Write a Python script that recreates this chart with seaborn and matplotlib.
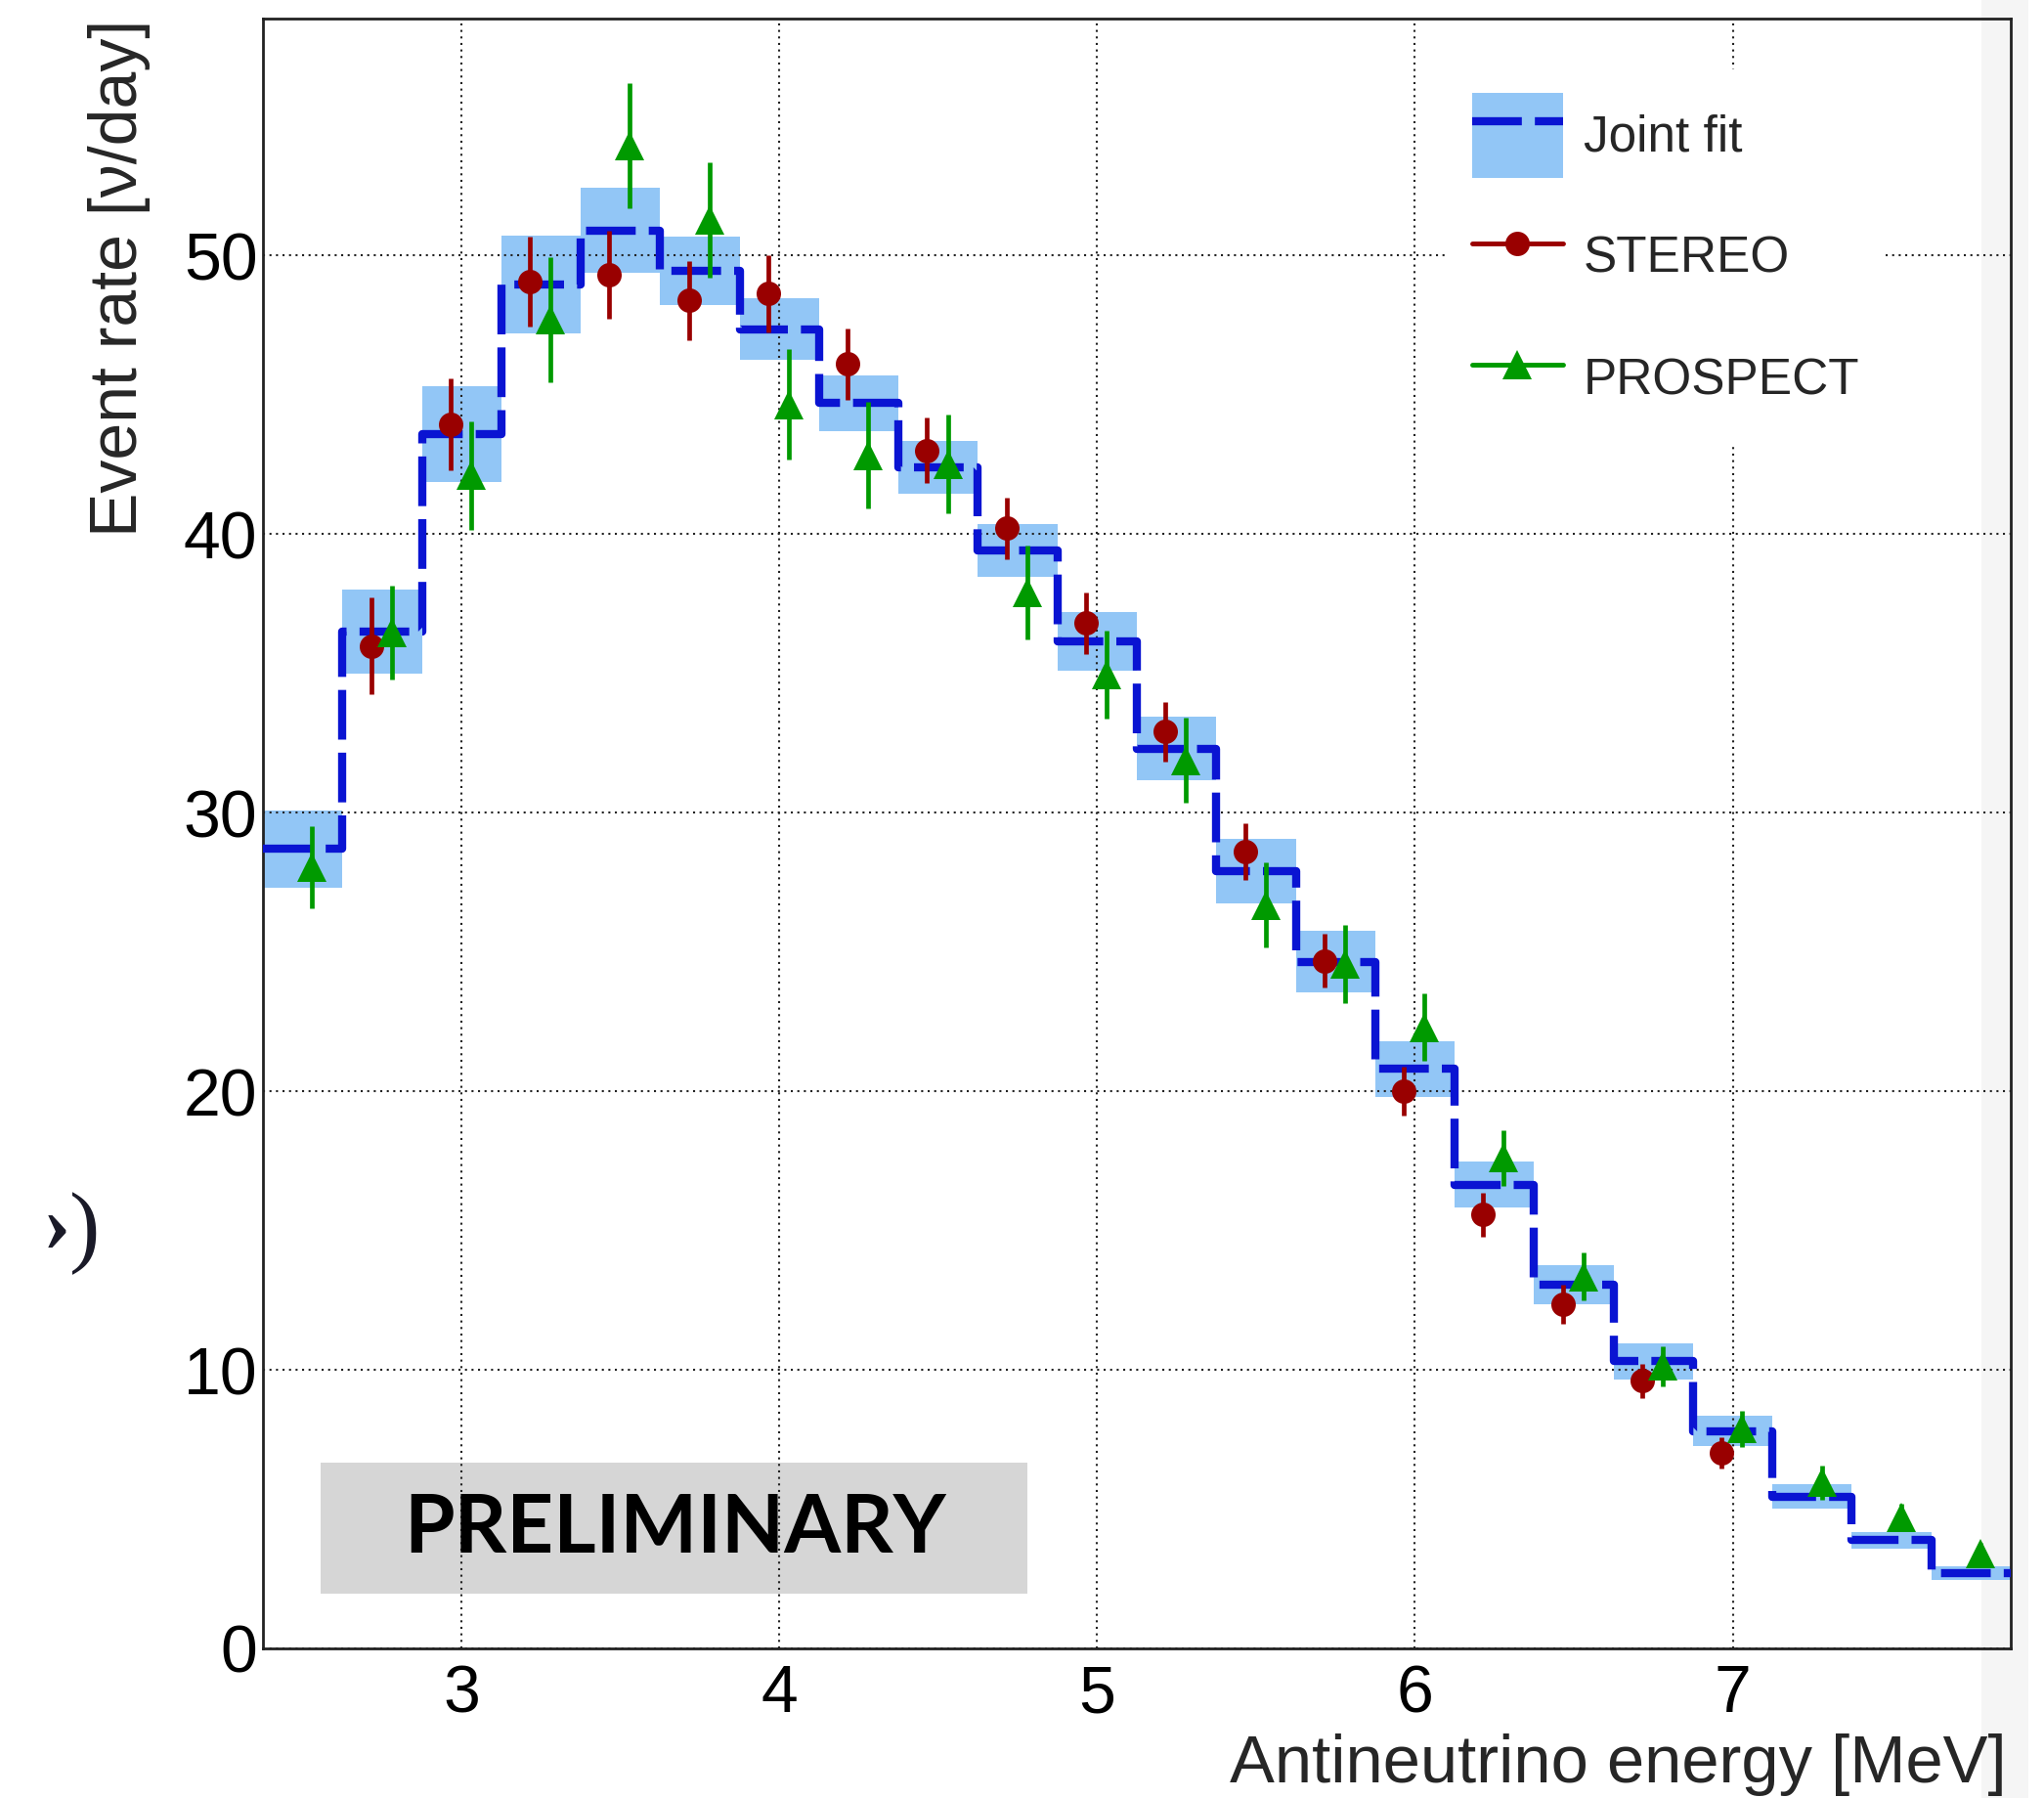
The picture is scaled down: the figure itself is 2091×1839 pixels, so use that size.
import numpy as np
import matplotlib
matplotlib.use("Agg")
import matplotlib.pyplot as plt
import seaborn as sns
from matplotlib.lines import Line2D
from matplotlib.patches import Patch, Rectangle
from matplotlib.ticker import MultipleLocator

# ---------------------------------------------------------------------------
# Antineutrino spectrum: 0.25 MeV bins from 2.375 to 7.875 MeV
# ---------------------------------------------------------------------------
bin_edges = np.round(np.arange(2.375, 7.8751, 0.25), 3)
bin_centers = 0.5 * (bin_edges[:-1] + bin_edges[1:])

# Joint fit (events/day) and its uncertainty band (half width)
fit_rate = np.array([28.7, 36.5, 43.6, 48.95, 50.9, 49.45, 47.35, 44.7, 42.4, 39.4, 36.15,
                     32.3, 27.9, 24.65, 20.8, 16.65, 13.05, 10.3, 7.8, 5.45, 3.88, 2.7])
fit_unc = np.array([1.39, 1.52, 1.72, 1.75, 1.54, 1.24, 1.1, 1.0, 0.95, 0.95, 1.05,
                    1.15, 1.15, 1.1, 1.0, 0.83, 0.7, 0.64, 0.55, 0.43, 0.3, 0.24])

# STEREO: bins 2.75 ... 7.0 MeV
stereo_rate = np.array([35.98, 43.94, 49.06, 49.3, 48.38, 48.63, 46.1, 43.0, 40.2, 36.8,
                        32.9, 28.6, 24.68, 20.0, 15.57, 12.35, 9.6, 7.01])
stereo_err = np.array([1.73, 1.65, 1.6, 1.57, 1.43, 1.38, 1.29, 1.18, 1.1, 1.1,
                       1.07, 1.02, 0.97, 0.87, 0.78, 0.7, 0.62, 0.57])

# PROSPECT: all bins 2.5 ... 7.75 MeV
prospect_rate = np.array([28.04, 36.46, 42.1, 47.7, 53.94, 51.26, 44.65, 42.83, 42.5, 37.9, 34.96,
                          31.88, 26.68, 24.57, 22.3, 17.6, 13.35, 10.14, 7.88, 5.95, 4.7, 3.4])
prospect_err = np.array([1.48, 1.7, 1.95, 2.25, 2.24, 2.07, 1.99, 1.9, 1.77, 1.68, 1.57,
                         1.52, 1.53, 1.41, 1.2, 1.0, 0.86, 0.72, 0.65, 0.62, 0.5, 0.4])

series_labels = ["Joint fit", "STEREO", "PROSPECT"]
x_ticks = [3, 4, 5, 6, 7]
y_ticks = [0, 10, 20, 30, 40, 50]

# ---------------------------------------------------------------------------
sns.set_theme(style="white")
plt.rcParams["font.family"] = ["Liberation Sans", "DejaVu Sans"]

BAND = "#92c6f6"
BLUE = "#0a14d2"
RED = "#990000"
GREEN = "#009a00"
dash = (0, (6.1, 1.6))

fig = plt.figure(figsize=(20.91, 18.39), dpi=100)
fig.patch.set_facecolor("white")
ax = fig.add_axes([0.12865, 0.0832, 0.85509, 0.90647])
ax.set_facecolor("none")

# faint strip along the right edge of the page
fig.patches.append(Rectangle((2027 / 2091, 0), 48 / 2091, 1, transform=fig.transFigure,
                             facecolor="#f5f5f5", edgecolor="none", zorder=-5))

# fit uncertainty band
ax.bar(bin_centers, 2 * fit_unc, bottom=fit_rate - fit_unc, width=0.25,
       color=BAND, linewidth=0, zorder=1)

# fit step line
sns.lineplot(x=bin_edges, y=np.append(fit_rate, fit_rate[-1]), drawstyle="steps-post",
             color=BLUE, linewidth=6, linestyle=dash, ax=ax, zorder=3)

# data points
ax.errorbar(bin_centers[1:19] - 0.035, stereo_rate, yerr=stereo_err, fmt="o", color=RED,
            ms=18, mew=0, elinewidth=3.4, capsize=4, capthick=4, zorder=4)
ax.errorbar(bin_centers + 0.03, prospect_rate, yerr=prospect_err, fmt="^", color=GREEN,
            ms=21, mew=0, elinewidth=3.4, capsize=4, capthick=4, zorder=4)

# axes ranges and ticks
ax.set_xlim(bin_edges[0], bin_edges[-1])
ax.set_ylim(0, 58.5)
ax.set_xticks(x_ticks)
ax.set_yticks(y_ticks)
ax.xaxis.set_minor_locator(MultipleLocator(0.2))
ax.yaxis.set_minor_locator(MultipleLocator(2))
ax.tick_params(which="both", direction="in", top=False, right=False,
               width=1.8, color="#222222", labelcolor="black", labelsize=49)
ax.tick_params(axis="x", which="major", length=36, pad=11)
ax.tick_params(axis="x", which="minor", length=20)
ax.tick_params(axis="y", which="major", length=40, pad=4)
ax.tick_params(axis="y", which="minor", length=21.6)
for sp in ax.spines.values():
    sp.set_color("#222222")
    sp.set_linewidth(2)

ax.set_axisbelow(False)
ax.grid(True, which="major", color="#222222", linestyle=(0, (1, 2.2)), linewidth=1.5)

# axis titles
ax.set_xlabel("Antineutrino energy [MeV]", fontsize=49.5, loc="right", va="baseline")
ax.xaxis.set_label_coords(0.9978, -0.0822)
ax.set_ylabel("Event rate [ν/day]", fontsize=49, loc="top", va="baseline")
ax.yaxis.set_label_coords(-0.0721, 0.9994)

# legend
joint_handle = (Patch(facecolor=BAND, edgecolor="none"),
                Line2D([], [], color=BLUE, lw=6, linestyle=dash))
stereo_handle = Line2D([], [], color=RED, lw=3.5, marker="o", ms=18, mew=0)
prospect_handle = Line2D([], [], color=GREEN, lw=3.5, marker="^", ms=21, mew=0)
leg = ax.legend([joint_handle, stereo_handle, prospect_handle], series_labels,
                loc="upper left", bbox_to_anchor=(1482 / 2091, 1 - 71 / 1839),
                bbox_transform=fig.transFigure, fontsize=37, handlelength=1.81,
                handleheight=2.24, handletextpad=0.41, labelspacing=0.72, borderpad=0.46,
                borderaxespad=0, frameon=True, fancybox=False, facecolor="white",
                edgecolor="none", framealpha=1)
leg.set_zorder(6)

# PRELIMINARY banner
ax.add_patch(Rectangle((0.0328, 0.0336), 0.4046, 0.0804, transform=ax.transAxes,
                       facecolor="#d6d6d6", edgecolor="none", zorder=2))
ax.text(0.236, 0.0588, "PRELIMINARY", transform=ax.transAxes, ha="center", va="baseline",
        fontsize=60, fontweight="bold", family=["Lato", "DejaVu Sans"], color="black", zorder=3)

# stray glyphs at the left margin
fig.text(58 / 2091, 1 - 1258 / 1839, "›", ha="center", va="center", fontsize=62,
         fontweight="bold", family=["Liberation Serif", "DejaVu Serif"], color="#1a1a28")
fig.text(87 / 2091, 1 - 1262 / 1839, ")", ha="center", va="center", fontsize=68,
         family=["Liberation Serif", "DejaVu Serif"], color="#1a1a28")

fig.savefig("out.png", dpi=100)
